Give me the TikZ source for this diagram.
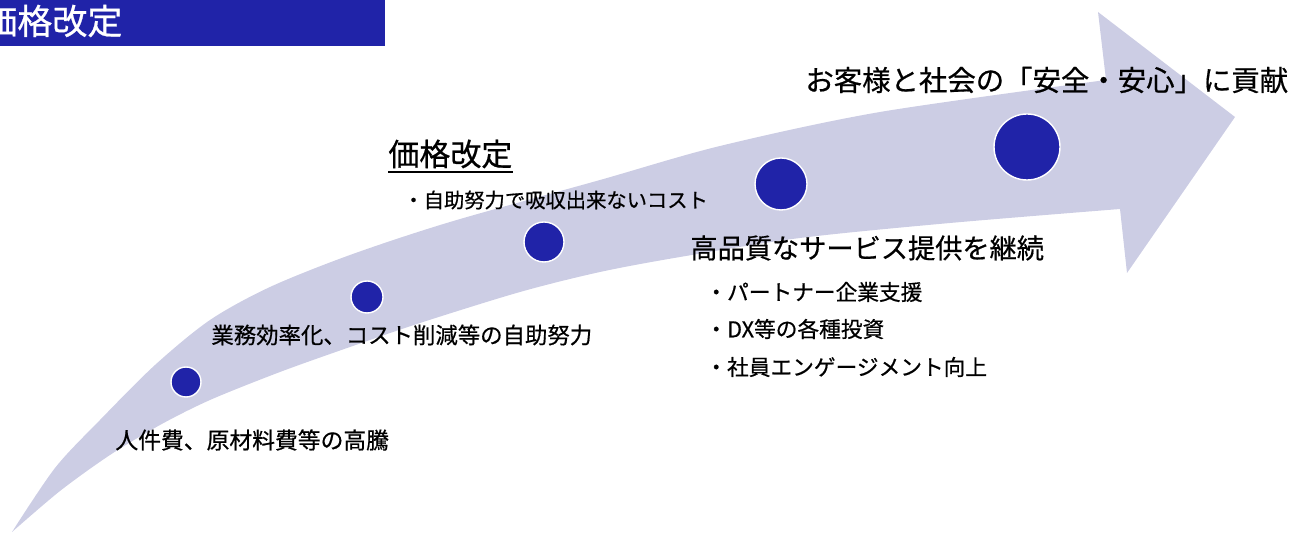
\documentclass[tikz,border=0pt]{standalone}
\usepackage{fontspec}
\setmainfont{Noto Sans CJK JP}[FakeBold=0.6]
\definecolor{navy}{RGB}{32,35,168}
\definecolor{lavender}{RGB}{204,205,228}

\begin{document}
\begin{tikzpicture}[x=0.5pt, y=-0.5pt,
        dot/.style={circle, fill=navy, draw=white, line width=0.7pt, inner sep=0pt},
        txt/.style={anchor=west, inner sep=0pt, text=black}]
    \clip (0,0) rectangle (1290,533);
    \fill[lavender] (12,532) -- plot[smooth] coordinates {(12,532) (55,468) (100,420) (155,365) (210,320) (270,287) (350,255) (450,222) (600,180) (720,146) (880,112) (1106,80)}
        -- (1098,12) -- (1235,117) -- (1127,273) -- (1120,209)
        -- plot[smooth] coordinates {(1120,209) (950,223) (800,238) (680,257) (600,272) (520,292) (420,323) (350,347) (280,372) (210,400) (160,425) (110,455) (60,491) (12,532)} -- cycle;
    \fill[navy] (0,0) rectangle (385,46);
    \node[txt, text=white, font=\fontsize{17.5}{20}\selectfont] (hdr) at (-18,21) {価格改定};
    \foreach \n/\x/\y/\d in {1/186/382/15, 2/367/297/16, 3/544/242/20, 4/781/184/26, 5/1027/147/33}
        \node[dot, minimum size=\d pt] (c\n) at (\x,\y) {};
    \node[txt, font=\fontsize{14.2}{17}\selectfont] (goal) at (805,80) {お客様と社会の「安全・安心」に貢献};
    \node[txt, font=\fontsize{15.5}{18}\selectfont] (price) at (388,154) {価格改定};
    \draw[line width=1pt] ([yshift=-1.5pt]price.south west) -- ([yshift=-1.5pt]price.south east);
    \node[txt, font=\fontsize{10.15}{12}\selectfont] (priceA) at (403,200) {・自助努力で吸収出来ないコスト};
    \node[txt, font=\fontsize{13.6}{16}\selectfont] (qual) at (690,248) {高品質なサービス提供を継続};
    \node[txt, font=\fontsize{10.85}{13}\selectfont] (qualA) at (705,292) {・パートナー企業支援};
    \node[txt, font=\fontsize{10.85}{13}\selectfont] (qualB) at (705,329) {・DX等の各種投資};
    \node[txt, font=\fontsize{10.85}{13}\selectfont] (qualC) at (705,367) {・社員エンゲージメント向上};
    \node[txt, font=\fontsize{11.2}{13}\selectfont] (eff) at (211,335) {業務効率化、コスト削減等の自助努力};
    \node[txt, font=\fontsize{11.4}{13}\selectfont] (cost) at (115,440) {人件費、原材料費等の高騰};
\end{tikzpicture}
\end{document}
